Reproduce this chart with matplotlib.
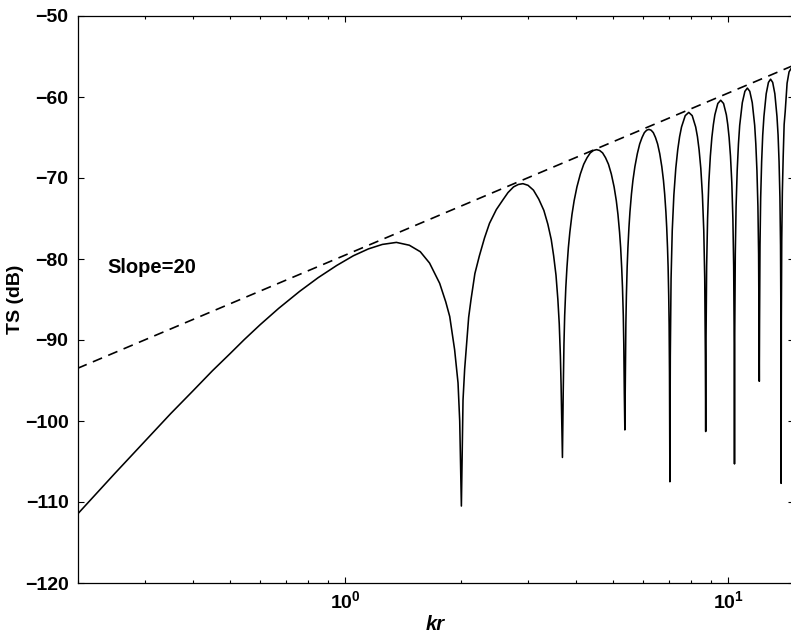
import matplotlib
matplotlib.use("Agg")
import matplotlib.pyplot as plt
from matplotlib.ticker import FixedLocator, FixedFormatter, LogLocator, NullFormatter

plt.rcParams['font.family'] = ['Liberation Sans', 'DejaVu Sans']
plt.rcParams['font.weight'] = 'bold'
plt.rcParams['mathtext.fontset'] = 'custom'
plt.rcParams['mathtext.rm'] = 'Liberation Sans:bold'
plt.rcParams['mathtext.bf'] = 'Liberation Sans:bold'
plt.rcParams['mathtext.it'] = 'Liberation Sans:bold:italic'

# Target strength versus kr
kr_curve = [
    # rising Rayleigh part and first maximum
    0.2, 0.25, 0.3, 0.35, 0.4, 0.45, 0.5, 0.545, 0.6, 0.67, 0.76, 0.85, 0.95,
    1.05, 1.15, 1.25, 1.36, 1.47, 1.57, 1.66, 1.764, 1.83, 1.874, 1.93, 1.97,
    1.99, 2.01,
    # second lobe
    2.03, 2.05, 2.07, 2.10, 2.13, 2.18, 2.24, 2.31, 2.38, 2.48, 2.58, 2.66,
    2.75, 2.83, 2.91, 3.0, 3.1, 3.2, 3.3, 3.38, 3.45, 3.5, 3.55, 3.59, 3.62,
    3.645, 3.66, 3.69,
    # third lobe
    3.707, 3.724, 3.740, 3.766, 3.791, 3.824, 3.858, 3.908, 3.959, 4.026,
    4.110, 4.194, 4.278, 4.362, 4.446, 4.530, 4.614, 4.698, 4.782, 4.866,
    4.950, 5.034, 5.101, 5.152, 5.202, 5.236, 5.269, 5.294, 5.320, 5.336,
    5.353, 5.37,
    # fourth lobe
    5.387, 5.403, 5.420, 5.445, 5.470, 5.504, 5.537, 5.587, 5.637, 5.704,
    5.788, 5.871, 5.955, 6.038, 6.122, 6.205, 6.289, 6.372, 6.456, 6.539,
    6.623, 6.706, 6.773, 6.823, 6.873, 6.906, 6.940, 6.965, 6.990, 7.007,
    7.023, 7.04,
    # fifth lobe
    7.057, 7.09, 7.14, 7.21, 7.294, 7.38, 7.463, 7.55, 7.72, 7.885, 8.05,
    8.22, 8.308, 8.39, 8.477, 8.56, 8.63, 8.68, 8.713, 8.73,
    # sixth lobe
    8.746, 8.78, 8.83, 8.895, 8.978, 9.06, 9.143, 9.225, 9.39, 9.555, 9.72,
    9.885, 9.968, 10.05, 10.133, 10.215, 10.28, 10.33, 10.364, 10.38,
    # seventh lobe
    10.397, 10.43, 10.48, 10.55, 10.63, 10.71, 10.88, 11.05, 11.215, 11.38,
    11.55, 11.72, 11.80, 11.88, 11.95, 12.0, 12.033, 12.05,
    # eighth lobe
    12.067, 12.10, 12.15, 12.22, 12.30, 12.39, 12.56, 12.73, 12.895, 13.06,
    13.23, 13.40, 13.49, 13.57, 13.64, 13.69, 13.723, 13.74,
    # ninth lobe (cut by the axis edge)
    13.757, 13.79, 13.84, 13.91, 13.99, 14.08, 14.24, 14.41, 14.58, 14.75,
]
ts_curve = [
    -111.5, -106.5, -102.5, -99.1, -96.3, -93.8, -91.7, -89.95, -88.1, -86.1,
    -84.0, -82.3, -80.8, -79.6, -78.75, -78.2, -77.95, -78.3, -79.1, -80.5,
    -83.0, -85.3, -87.1, -91.2, -95.3, -100.0, -110.5,
    -97.4, -93.6, -91.0, -87.2, -85.0, -81.8, -79.6, -77.4, -75.6, -73.9,
    -72.7, -71.8, -71.1, -70.8, -70.7, -70.9, -71.5, -72.6, -74.0, -75.7,
    -77.6, -79.6, -82.0, -85.0, -88.0, -92.0, -95.5, -104.5,
    -96.6, -90.5, -87.0, -83.5, -81.1, -78.6, -76.7, -74.5, -72.8, -71.1,
    -69.5, -68.3, -67.5, -66.9, -66.6, -66.5, -66.6, -66.9, -67.5, -68.3,
    -69.5, -71.1, -72.8, -74.5, -76.7, -78.6, -81.1, -83.5, -87.0, -90.5,
    -96.6, -101.1,
    -94.1, -88.0, -84.5, -81.0, -78.6, -76.1, -74.2, -72.0, -70.3, -68.6,
    -67.0, -65.8, -65.0, -64.4, -64.1, -64.0, -64.1, -64.4, -65.0, -65.8,
    -67.0, -68.6, -70.3, -72.0, -74.2, -76.1, -78.6, -81.0, -84.5, -88.0,
    -94.1, -107.5,
    -92.0, -82.4, -76.5, -72.1, -68.8, -66.5, -64.9, -63.7, -62.3, -61.9,
    -62.3, -63.7, -64.9, -66.5, -68.8, -72.1, -76.5, -82.4, -92.0, -101.3,
    -90.5, -80.9, -75.0, -70.6, -67.3, -65.0, -63.4, -62.2, -60.8, -60.4,
    -60.8, -62.2, -63.4, -65.0, -67.3, -70.6, -75.0, -80.9, -90.5, -105.3,
    -89.0, -79.4, -73.5, -69.1, -65.8, -63.5, -60.7, -59.3, -58.9, -59.3,
    -60.7, -63.5, -65.8, -69.1, -73.5, -79.4, -89.0, -95.1,
    -87.9, -78.3, -72.4, -68.0, -64.7, -62.4, -59.6, -58.2, -57.8, -58.2,
    -59.6, -62.4, -64.7, -68.0, -72.4, -78.3, -87.9, -107.7,
    -87.3, -77.7, -71.8, -67.4, -63.4, -61.8, -58.3, -56.9, -56.5, -56.9,
]

# 20 dB/decade reference line
kr_slope = [0.2, 14.8]
ts_slope = [-93.5, -56.1]
slope_label = "Slope=20"

x_major_ticks = [1, 10]
x_major_labels = [r"$\mathbf{10^{0}}$", r"$\mathbf{10^{1}}$"]
y_ticks = [-120, -110, -100, -90, -80, -70, -60, -50]
x_limits = (0.2, 14.8)
y_limits = (-120, -50)

fig = plt.figure(figsize=(7.91, 6.36), dpi=100)
ax = fig.add_axes([77.5 / 791, (636 - 583) / 636, 716 / 791, 567 / 636])

ax.plot(kr_curve, ts_curve, color='black', lw=1.15)
ax.plot(kr_slope, ts_slope, color='black', lw=1.2, dashes=(6, 4))

ax.set_xscale('log')
ax.set_xlim(*x_limits)
ax.set_ylim(*y_limits)

ax.xaxis.set_major_locator(FixedLocator(x_major_ticks))
ax.xaxis.set_major_formatter(FixedFormatter(x_major_labels))
ax.xaxis.set_minor_locator(LogLocator(base=10, subs=range(2, 10)))
ax.xaxis.set_minor_formatter(NullFormatter())
ax.set_yticks(y_ticks)
ax.set_yticklabels([f"\u2212{abs(v)}" for v in y_ticks])

ax.tick_params(which='both', direction='in', top=True, right=True,
               width=0.8, color='black')
ax.tick_params(which='major', length=4)
ax.tick_params(which='minor', length=2.5)
ax.tick_params(axis='y', labelsize=14, pad=6.5)
ax.tick_params(axis='x', labelsize=14, pad=5)
for lab in ax.get_yticklabels():
    lab.set_fontweight('bold')

for sp in ax.spines.values():
    sp.set_linewidth(0.9)
    sp.set_color('black')

ax.set_xlabel("kr", fontsize=14.5, fontweight='bold', fontstyle='italic',
              va='baseline')
ax.xaxis.set_label_coords(0.5, -0.0829)
ax.set_ylabel("TS (dB)", fontsize=14, fontweight='bold')
ax.yaxis.set_label_coords(-0.0747, 0.5)

ax.text(0.24, -81, slope_label, fontsize=14.5, fontweight='bold',
        ha='left', va='center')

fig.savefig("out.png", dpi=100)
